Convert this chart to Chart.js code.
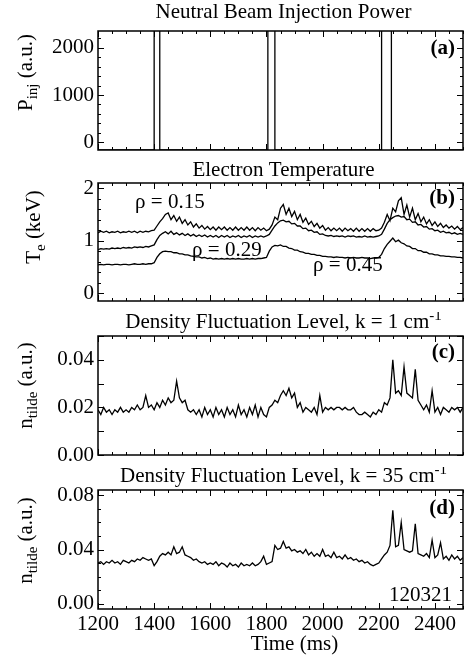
<!DOCTYPE html>
<html>
<head>
<meta charset="utf-8">
<script src="https://cdn.jsdelivr.net/npm/chart.js@4.4.1/dist/chart.umd.min.js"></script>
<style>
  html, body { margin: 0; padding: 0; background: #fff; }
  #fig { position: relative; width: 464px; height: 657px; overflow: hidden; }
  #fig canvas { position: absolute; left: 0; }
</style>
</head>
<body>
<div id="fig">
  <canvas id="cA" width="464" height="160" style="top:0px"></canvas>
  <canvas id="cB" width="464" height="152" style="top:160px"></canvas>
  <canvas id="cC" width="464" height="155" style="top:312px"></canvas>
  <canvas id="cD" width="464" height="190" style="top:467px"></canvas>
</div>
<script>
// Four stacked time traces (shot 120321): NBI power, Te at three radii,
// and the k = 1 and k = 35 cm^-1 density fluctuation levels.

const FONT = '"Liberation Serif", "Times New Roman", serif';

// ---- data ----
const timeMs = [
  1200, 1210, 1220, 1230, 1240, 1250, 1260, 1270, 1280, 1290,
  1300, 1310, 1320, 1330, 1340, 1350, 1360, 1370, 1380, 1390,
  1400, 1410, 1420, 1430, 1440, 1450, 1460, 1470, 1480, 1490,
  1500, 1510, 1520, 1530, 1540, 1550, 1560, 1570, 1580, 1590,
  1600, 1610, 1620, 1630, 1640, 1650, 1660, 1670, 1680, 1690,
  1700, 1710, 1720, 1730, 1740, 1750, 1760, 1770, 1780, 1790,
  1800, 1810, 1820, 1830, 1840, 1850, 1860, 1870, 1880, 1890,
  1900, 1910, 1920, 1930, 1940, 1950, 1960, 1970, 1980, 1990,
  2000, 2010, 2020, 2030, 2040, 2050, 2060, 2070, 2080, 2090,
  2100, 2110, 2120, 2130, 2140, 2150, 2160, 2170, 2180, 2190,
  2200, 2210, 2220, 2230, 2240, 2250, 2260, 2270, 2280, 2290,
  2300, 2310, 2320, 2330, 2340, 2350, 2360, 2370, 2380, 2390,
  2400, 2410, 2420, 2430, 2440, 2450, 2460, 2470, 2480, 2490,
  2500
];

const nbiTime = [1200, 1400, 1400, 1420, 1420, 1805, 1805, 1830, 1830, 2210, 2210, 2245, 2245, 2500];
const nbiPower = [-160, -160, 3000, 3000, -160, -160, 3000, 3000, -160, -160, 3000, 3000, -160, -160];

const teRho015 = [
  1.15, 1.18, 1.16, 1.18, 1.15, 1.17, 1.16, 1.18, 1.15, 1.17, 1.16, 1.18, 1.16, 1.18, 1.15, 1.18, 1.16, 1.18, 1.17, 1.19,
  1.20, 1.28, 1.36, 1.42, 1.50, 1.53, 1.40, 1.48, 1.37, 1.45, 1.33, 1.40, 1.30, 1.36, 1.26, 1.32, 1.24, 1.29, 1.22, 1.27, 1.21,
  1.26, 1.20, 1.26, 1.21, 1.26, 1.20, 1.25, 1.20, 1.26, 1.20, 1.25, 1.20, 1.26, 1.20, 1.25, 1.19, 1.25, 1.20, 1.24,
  1.19, 1.22, 1.30, 1.45, 1.40, 1.62, 1.69, 1.50, 1.62, 1.46, 1.56, 1.40, 1.50, 1.35, 1.43, 1.31, 1.37, 1.27, 1.33, 1.24, 1.29,
  1.20, 1.25, 1.19, 1.24, 1.19, 1.24, 1.18, 1.24, 1.19, 1.23, 1.18, 1.24, 1.18, 1.23, 1.18, 1.23, 1.18, 1.23, 1.19,
  1.20, 1.24, 1.35, 1.50, 1.38, 1.62, 1.55, 1.76, 1.82, 1.50, 1.68, 1.45, 1.62, 1.40, 1.52, 1.36, 1.45, 1.32, 1.40, 1.29,
  1.36, 1.27, 1.33, 1.25, 1.30, 1.24, 1.28, 1.22, 1.27, 1.21, 1.25
];
const teRho029 = [
  0.83, 0.85, 0.84, 0.85, 0.84, 0.86, 0.85, 0.86, 0.85, 0.87, 0.86, 0.87, 0.86, 0.88, 0.87, 0.88, 0.87, 0.89, 0.88, 0.90,
  0.92, 1.02, 1.10, 1.14, 1.17, 1.13, 1.18, 1.12, 1.15, 1.11, 1.14, 1.10, 1.13, 1.09, 1.12, 1.08, 1.11, 1.08, 1.11, 1.07, 1.10,
  1.07, 1.10, 1.06, 1.10, 1.07, 1.10, 1.06, 1.09, 1.07, 1.10, 1.06, 1.09, 1.07, 1.10, 1.06, 1.09, 1.07, 1.09, 1.07,
  1.09, 1.12, 1.20, 1.28, 1.34, 1.38, 1.39, 1.36, 1.37, 1.32, 1.33, 1.28, 1.28, 1.23, 1.24, 1.19, 1.20, 1.16, 1.17, 1.12, 1.13,
  1.10, 1.09, 1.10, 1.08, 1.09, 1.08, 1.09, 1.07, 1.09, 1.08, 1.09, 1.07, 1.08, 1.07, 1.09, 1.07, 1.08, 1.07, 1.08,
  1.09, 1.12, 1.22, 1.33, 1.40, 1.44, 1.47, 1.48, 1.45, 1.46, 1.40, 1.41, 1.35, 1.36, 1.30, 1.31, 1.26, 1.27, 1.22, 1.23,
  1.19, 1.20, 1.16, 1.18, 1.15, 1.16, 1.13, 1.15, 1.12, 1.14, 1.12
];
const teRho045 = [
  0.54, 0.55, 0.54, 0.55, 0.55, 0.54, 0.55, 0.55, 0.54, 0.55, 0.55, 0.54, 0.55, 0.56, 0.55, 0.55, 0.56, 0.55, 0.56, 0.56,
  0.58, 0.68, 0.75, 0.79, 0.80, 0.79, 0.79, 0.77, 0.77, 0.75, 0.75, 0.73, 0.73, 0.71, 0.70, 0.69, 0.69, 0.67, 0.68, 0.66, 0.67,
  0.65, 0.66, 0.65, 0.66, 0.65, 0.66, 0.65, 0.66, 0.65, 0.66, 0.65, 0.65, 0.66, 0.65, 0.66, 0.65, 0.66, 0.66, 0.67,
  0.68, 0.80, 0.88, 0.91, 0.90, 0.92, 0.89, 0.89, 0.86, 0.85, 0.82, 0.82, 0.79, 0.78, 0.76, 0.76, 0.74, 0.74, 0.72, 0.72, 0.70,
  0.70, 0.69, 0.69, 0.68, 0.69, 0.68, 0.68, 0.67, 0.68, 0.67, 0.68, 0.67, 0.67, 0.68, 0.67, 0.67, 0.66, 0.67, 0.67,
  0.68, 0.74, 0.85, 0.93, 0.99, 1.05, 0.98, 1.01, 0.96, 0.94, 0.90, 0.89, 0.85, 0.85, 0.81, 0.81, 0.78, 0.78, 0.75, 0.75,
  0.73, 0.73, 0.71, 0.71, 0.70, 0.70, 0.69, 0.69, 0.68, 0.68, 0.67
];

const nFluctK1 = [
  0.019, 0.017, 0.020, 0.018, 0.019, 0.017, 0.019, 0.018, 0.020, 0.018, 0.019, 0.018, 0.020, 0.019, 0.021, 0.019, 0.020, 0.025, 0.020, 0.021,
  0.019, 0.022, 0.020, 0.023, 0.021, 0.024, 0.022, 0.023, 0.031, 0.024, 0.022, 0.023, 0.019, 0.018, 0.019, 0.017, 0.019, 0.016, 0.020, 0.017, 0.019,
  0.016, 0.020, 0.017, 0.019, 0.016, 0.020, 0.017, 0.019, 0.016, 0.021, 0.017, 0.019, 0.016, 0.020, 0.017, 0.021, 0.016, 0.020, 0.017,
  0.016, 0.020, 0.021, 0.023, 0.022, 0.025, 0.027, 0.025, 0.028, 0.024, 0.026, 0.020, 0.022, 0.018, 0.020, 0.019, 0.018, 0.020, 0.017, 0.025, 0.018,
  0.020, 0.019, 0.020, 0.019, 0.020, 0.020, 0.019, 0.020, 0.019, 0.019, 0.020, 0.018, 0.017, 0.017, 0.018, 0.017, 0.016, 0.018, 0.017,
  0.019, 0.018, 0.022, 0.021, 0.024, 0.040, 0.026, 0.027, 0.025, 0.037, 0.026, 0.025, 0.024, 0.036, 0.023, 0.021, 0.019, 0.021, 0.018, 0.027,
  0.018, 0.020, 0.017, 0.020, 0.019, 0.018, 0.020, 0.019, 0.020, 0.018, 0.020
];
const nFluctK35 = [
  0.030, 0.031, 0.029, 0.031, 0.030, 0.032, 0.030, 0.031, 0.029, 0.032, 0.031, 0.030, 0.032, 0.031, 0.033, 0.032, 0.034, 0.033, 0.032, 0.033,
  0.028, 0.031, 0.035, 0.037, 0.036, 0.038, 0.036, 0.042, 0.037, 0.038, 0.042, 0.036, 0.035, 0.034, 0.032, 0.033, 0.031, 0.030, 0.031, 0.029, 0.030,
  0.029, 0.031, 0.028, 0.030, 0.029, 0.027, 0.030, 0.028, 0.029, 0.027, 0.030, 0.028, 0.029, 0.028, 0.030, 0.028, 0.029, 0.031, 0.035,
  0.029, 0.030, 0.031, 0.043, 0.040, 0.041, 0.046, 0.041, 0.042, 0.039, 0.040, 0.038, 0.039, 0.037, 0.040, 0.036, 0.038, 0.035, 0.037, 0.035, 0.040,
  0.035, 0.036, 0.034, 0.038, 0.034, 0.035, 0.033, 0.036, 0.033, 0.034, 0.032, 0.033, 0.031, 0.032, 0.030, 0.031, 0.029, 0.028, 0.029,
  0.030, 0.033, 0.036, 0.038, 0.043, 0.069, 0.042, 0.043, 0.060, 0.040, 0.039, 0.038, 0.039, 0.059, 0.037, 0.036, 0.035, 0.037, 0.034, 0.047,
  0.034, 0.036, 0.045, 0.033, 0.035, 0.032, 0.036, 0.033, 0.035, 0.032, 0.034
];

// tick labels
const timeTicks = [1200, 1400, 1600, 1800, 2000, 2200, 2400];
const pinjTicks = [0, 1000, 2000];
const teTicks = [0, 1, 2];
const k1Ticks = [0, 0.02, 0.04];
const k35Ticks = [0, 0.04, 0.08];

// ---- panel layout ----
const panels = [
  {
    id: 'cA', padTop: 31, padBottom: 10, showX: false,
    yMin: -160, yMax: 2350, yTicks: pinjTicks, yFmt: v => String(v),
    yMinor: 200, yMajorEvery: 5,
    series: [{ x: nbiTime, y: nbiPower }],
    title: [['Neutral Beam Injection Power', '']], titleDy: 13,
    yTitle: [['P', ''], ['inj', 'sub'], [' (a.u.)', '']], yTitleX: 32, yTitleShift: -18,
    tag: '(a)', tagDy: 23,
    notes: [],
  },
  {
    id: 'cB', padTop: 23, padBottom: 11, showX: false,
    yMin: -0.15, yMax: 2.1, yTicks: teTicks, yFmt: v => String(v),
    yMinor: 0.2, yMajorEvery: 5,
    series: [{ x: timeMs, y: teRho015 }, { x: timeMs, y: teRho029 }, { x: timeMs, y: teRho045 }],
    title: [['Electron Temperature', '']], titleDy: 7,
    yTitle: [['T', ''], ['e', 'sub'], [' (keV)', '']], yTitleX: 40, yTitleShift: -15,
    tag: '(b)', tagDy: 21,
    notes: [
      { text: '\u03c1 = 0.15', t: 1456, v: 1.62 },
      { text: '\u03c1 = 0.29', t: 1659, v: 0.71 },
      { text: '\u03c1 = 0.45', t: 2090, v: 0.42 },
    ],
  },
  {
    id: 'cC', padTop: 24, padBottom: 12, showX: false,
    yMin: 0, yMax: 0.05, yTicks: k1Ticks, yFmt: v => v.toFixed(2),
    yMinor: 0.01, yMajorEvery: 1,
    series: [{ x: timeMs, y: nFluctK1 }],
    title: [['Density Fluctuation Level, k = 1 cm', ''], ['-1', 'sup']], titleDy: 8,
    yTitle: [['n', ''], ['tilde', 'sub'], [' (a.u.)', '']], yTitleX: 32, yTitleShift: -10,
    tag: '(c)', tagDy: 22,
    notes: [],
  },
  {
    id: 'cD', padTop: 23, padBottom: 0, showX: true,
    yMin: -0.004, yMax: 0.084, yTicks: k35Ticks, yFmt: v => v.toFixed(2),
    yMinor: 0.01, yMajorEvery: 4,
    series: [{ x: timeMs, y: nFluctK35 }],
    title: [['Density Fluctuation Level, k = 35 cm', ''], ['-1', 'sup']], titleDy: 8,
    yTitle: [['n', ''], ['tilde', 'sub'], [' (a.u.)', '']], yTitleX: 32, yTitleShift: -9,
    tag: '(d)', tagDy: 24,
    shot: '120321',
    notes: [],
  },
];

function fontFor(mode, bold) {
  const size = mode ? 15 : 21;
  return (bold ? 'bold ' : '') + size + 'px ' + FONT;
}

// text with sub/superscript runs, drawn left to right from a centre point
function drawRich(ctx, parts, x, y, align) {
  const widths = parts.map(([t, m]) => { ctx.font = fontFor(m); return ctx.measureText(t).width; });
  const total = widths.reduce((a, b) => a + b, 0);
  let cx = align === 'center' ? x - total / 2 : x;
  parts.forEach(([t, m], i) => {
    ctx.font = fontFor(m);
    const dy = m === 'sub' ? 5 : (m === 'sup' ? -8 : 0);
    ctx.fillText(t, cx, y + dy);
    cx += widths[i];
  });
}

function tickMarks(ctx, scale, area, min, max, step, every, horizontal) {
  const first = Math.ceil(min / step - 1e-6);
  const last = Math.floor(max / step + 1e-6);
  for (let k = first; k <= last; k++) {
    const len = (((k % every) + every) % every === 0) ? 6 : 3;
    const px = Math.round(scale.getPixelForValue(k * step)) + 0.5;
    if (horizontal) {
      ctx.moveTo(px, area.bottom); ctx.lineTo(px, area.bottom - len);
      ctx.moveTo(px, area.top); ctx.lineTo(px, area.top + len);
    } else {
      ctx.moveTo(area.left, px); ctx.lineTo(area.left + len, px);
      ctx.moveTo(area.right, px); ctx.lineTo(area.right - len, px);
    }
  }
}

function framePlugin(p) {
  return {
    id: 'frame' + p.id,
    afterDraw(chart) {
      const ctx = chart.ctx;
      const a = chart.chartArea;
      const xs = chart.scales.x, ys = chart.scales.y;
      ctx.save();
      ctx.strokeStyle = '#000';
      ctx.fillStyle = '#000';
      // ticks on all four sides, pointing inwards
      ctx.lineWidth = 1;
      ctx.beginPath();
      tickMarks(ctx, xs, a, 1200, 2500, 50, 4, true);
      tickMarks(ctx, ys, a, p.yMin, p.yMax, p.yMinor, p.yMajorEvery, false);
      ctx.stroke();
      ctx.lineWidth = 1.5;
      ctx.strokeRect(a.left, a.top, a.right - a.left, a.bottom - a.top);

      // panel title
      ctx.textBaseline = 'alphabetic';
      drawRich(ctx, p.title, (a.left + a.right) / 2 + 3, a.top - p.titleDy, 'center');

      // y axis title, rotated
      ctx.save();
      ctx.translate(p.yTitleX, (a.top + a.bottom) / 2 + p.yTitleShift);
      ctx.rotate(-Math.PI / 2);
      drawRich(ctx, p.yTitle, 0, 0, 'center');
      ctx.restore();

      // panel tag
      ctx.font = fontFor('', true);
      ctx.textAlign = 'right';
      ctx.fillText(p.tag, a.right - 8, a.top + p.tagDy);
      if (p.shot) {
        ctx.font = fontFor('');
        ctx.fillText(p.shot, a.right - 11, a.bottom - 8);
      }
      ctx.textAlign = 'center';
      ctx.font = fontFor('');
      p.notes.forEach(n => ctx.fillText(n.text, xs.getPixelForValue(n.t), ys.getPixelForValue(n.v)));

      if (p.showX) {
        ctx.fillText('Time (ms)', (a.left + a.right) / 2 + 14, a.bottom + 41);
      }
      ctx.restore();
    },
  };
}

function makeChart(p) {
  const datasets = p.series.map(s => ({
    data: s.x.map((x, i) => ({ x, y: s.y[i] })),
    borderColor: '#000',
    borderWidth: 1.3,
    pointRadius: 0,
    tension: 0,
    fill: false,
  }));
  return new Chart(document.getElementById(p.id), {
    type: 'line',
    data: { datasets },
    options: {
      responsive: false,
      animation: false,
      parsing: false,
      normalized: true,
      layout: { padding: { top: p.padTop, right: 1, bottom: p.padBottom, left: 0 } },
      plugins: { legend: { display: false }, tooltip: { enabled: false }, title: { display: false } },
      scales: {
        x: {
          type: 'linear',
          min: 1200,
          max: 2500,
          display: p.showX,
          afterBuildTicks: (s) => { s.ticks = timeTicks.map(v => ({ value: v })); },
          afterFit: (s) => {
            if (p.showX) s.height = 48;
            s.paddingLeft = 0; s.paddingRight = 0;
          },
          ticks: {
            autoSkip: false, maxRotation: 0, color: '#000', padding: 3,
            font: { family: FONT, size: 21 },
            callback: (v) => String(v),
          },
          grid: { display: false, drawTicks: false },
          border: { display: false },
        },
        y: {
          type: 'linear',
          min: p.yMin,
          max: p.yMax,
          afterBuildTicks: (s) => { s.ticks = p.yTicks.map(v => ({ value: v })); },
          afterFit: (s) => {
            s.width = 98;
            s.paddingTop = 0; s.paddingBottom = 0;
          },
          ticks: {
            autoSkip: false, color: '#000', padding: 4,
            font: { family: FONT, size: 21 },
            callback: (v) => p.yFmt(v),
          },
          grid: { display: false, drawTicks: false },
          border: { display: false },
        },
      },
    },
    plugins: [framePlugin(p)],
  });
}

panels.forEach(makeChart);
</script>
</body>
</html>
